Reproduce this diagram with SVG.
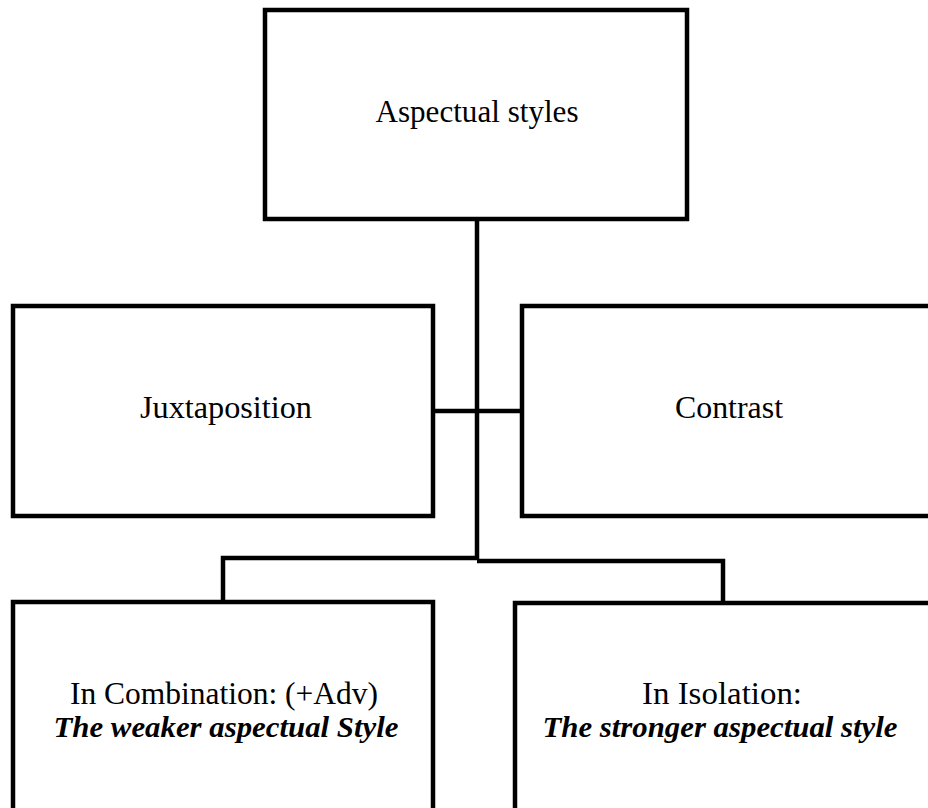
<svg xmlns="http://www.w3.org/2000/svg" width="928" height="808" viewBox="0 0 928 808">
<style>
.box{fill:#fff;stroke:#000;stroke-width:4.5}
.con{fill:none;stroke:#000;stroke-width:4.5}
.t{font-family:"Liberation Serif","Times New Roman",serif;font-size:31px;fill:#000;text-anchor:middle}
.bi{font-family:"Liberation Serif","Times New Roman",serif;font-size:30px;font-style:italic;font-weight:bold;fill:#000;text-anchor:middle}
</style>
<rect width="928" height="808" fill="#fff"/>
<g id="connectors">
<line class="con" x1="477" y1="219" x2="477" y2="560"/>
<line class="con" x1="433" y1="411" x2="522" y2="411"/>
<polyline class="con" points="223,602 223,558 477,558"/>
<polyline class="con" points="477,561 723,561 723,603"/>
</g>
<g id="node-aspectual">
<rect class="box" x="265" y="10" width="422" height="209"/>
<text class="t" x="477" y="122" textLength="203" lengthAdjust="spacingAndGlyphs">Aspectual styles</text>
</g>
<g id="node-juxtaposition">
<rect class="box" x="13" y="306" width="420" height="210"/>
<text class="t" x="226" y="418" textLength="172" lengthAdjust="spacingAndGlyphs">Juxtaposition</text>
</g>
<g id="node-contrast">
<rect class="box" x="522" y="306" width="415" height="210"/>
<text class="t" x="729" y="418" textLength="108" lengthAdjust="spacingAndGlyphs">Contrast</text>
</g>
<g id="node-combination">
<rect class="box" x="13" y="602" width="420" height="220"/>
<text class="t" x="224" y="704" textLength="308" lengthAdjust="spacingAndGlyphs">In Combination: (+Adv)</text>
<text class="bi" x="226" y="737" textLength="345" lengthAdjust="spacingAndGlyphs">The weaker aspectual Style</text>
</g>
<g id="node-isolation">
<rect class="box" x="515" y="603" width="422" height="220"/>
<text class="t" x="722" y="704" textLength="160" lengthAdjust="spacingAndGlyphs">In Isolation:</text>
<text class="bi" x="720" y="737" textLength="355" lengthAdjust="spacingAndGlyphs">The stronger aspectual style</text>
</g>
</svg>
